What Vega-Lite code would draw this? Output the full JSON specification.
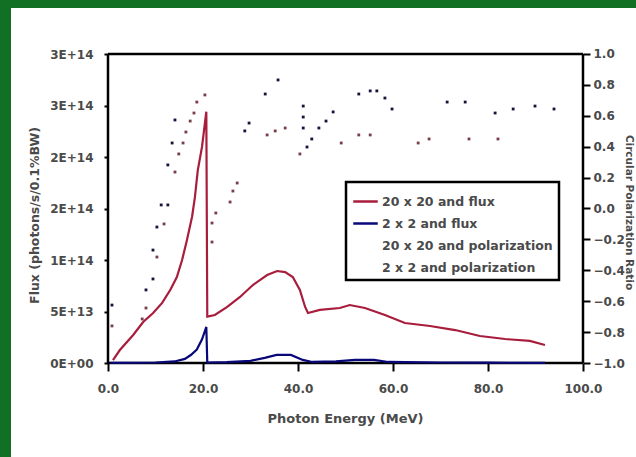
{
  "$schema": "https://vega.github.io/schema/vega-lite/v6.json",
  "width": 625,
  "height": 449,
  "autosize": {"type": "none"},
  "padding": {"left": 11, "top": 8, "right": 0, "bottom": 0},
  "background": "#127025",
  "config": {
    "view": {"fill": "white", "stroke": null},
    "font": "DejaVu Sans",
    "axis": {"labelFont": "DejaVu Sans", "labelFontWeight": "bold", "labelFontSize": 12, "labelColor": "#4a4a4a", "titleFont": "DejaVu Sans", "titleFontWeight": "bold", "titleFontSize": 12, "titleColor": "#4a4a4a", "grid": false, "domain": false, "tickColor": "black", "tickWidth": 2}
  },
  "datasets": {
    "frame": [
      {"x": 0, "x2": 100, "y": 3e14, "y2": 3e14},
      {"x": 0, "x2": 0, "y": 0, "y2": 3e14},
      {"x": 100, "x2": 100, "y": 0, "y2": 3e14},
      {"x": 0, "x2": 100, "y": 0, "y2": 0}
    ],
    "flux": [
      {"series": "20 x 20 and flux", "energy": 1.05, "flux": 2.9e12},
      {"series": "20 x 20 and flux", "energy": 2.5, "flux": 1.26e13},
      {"series": "20 x 20 and flux", "energy": 5.3, "flux": 2.72e13},
      {"series": "20 x 20 and flux", "energy": 7.4, "flux": 3.98e13},
      {"series": "20 x 20 and flux", "energy": 9.5, "flux": 4.85e13},
      {"series": "20 x 20 and flux", "energy": 11.4, "flux": 5.83e13},
      {"series": "20 x 20 and flux", "energy": 13.1, "flux": 7.09e13},
      {"series": "20 x 20 and flux", "energy": 14.5, "flux": 8.35e13},
      {"series": "20 x 20 and flux", "energy": 15.6, "flux": 1.0e14},
      {"series": "20 x 20 and flux", "energy": 16.6, "flux": 1.19e14},
      {"series": "20 x 20 and flux", "energy": 17.7, "flux": 1.42e14},
      {"series": "20 x 20 and flux", "energy": 18.3, "flux": 1.61e14},
      {"series": "20 x 20 and flux", "energy": 18.9, "flux": 1.87e14},
      {"series": "20 x 20 and flux", "energy": 19.8, "flux": 2.1e14},
      {"series": "20 x 20 and flux", "energy": 20.7, "flux": 2.44e14},
      {"series": "20 x 20 and flux", "energy": 20.9, "flux": 4.5e13},
      {"series": "20 x 20 and flux", "energy": 22.5, "flux": 4.66e13},
      {"series": "20 x 20 and flux", "energy": 25.1, "flux": 5.44e13},
      {"series": "20 x 20 and flux", "energy": 27.8, "flux": 6.41e13},
      {"series": "20 x 20 and flux", "energy": 30.5, "flux": 7.57e13},
      {"series": "20 x 20 and flux", "energy": 33.5, "flux": 8.54e13},
      {"series": "20 x 20 and flux", "energy": 35.6, "flux": 8.93e13},
      {"series": "20 x 20 and flux", "energy": 37.3, "flux": 8.83e13},
      {"series": "20 x 20 and flux", "energy": 38.9, "flux": 8.35e13},
      {"series": "20 x 20 and flux", "energy": 40.4, "flux": 7.09e13},
      {"series": "20 x 20 and flux", "energy": 41.5, "flux": 5.44e13},
      {"series": "20 x 20 and flux", "energy": 42.1, "flux": 4.85e13},
      {"series": "20 x 20 and flux", "energy": 44.6, "flux": 5.15e13},
      {"series": "20 x 20 and flux", "energy": 48.8, "flux": 5.34e13},
      {"series": "20 x 20 and flux", "energy": 50.9, "flux": 5.63e13},
      {"series": "20 x 20 and flux", "energy": 54.1, "flux": 5.34e13},
      {"series": "20 x 20 and flux", "energy": 58.3, "flux": 4.66e13},
      {"series": "20 x 20 and flux", "energy": 62.5, "flux": 3.88e13},
      {"series": "20 x 20 and flux", "energy": 67.8, "flux": 3.59e13},
      {"series": "20 x 20 and flux", "energy": 73.1, "flux": 3.2e13},
      {"series": "20 x 20 and flux", "energy": 78.3, "flux": 2.62e13},
      {"series": "20 x 20 and flux", "energy": 83.6, "flux": 2.33e13},
      {"series": "20 x 20 and flux", "energy": 88.8, "flux": 2.14e13},
      {"series": "20 x 20 and flux", "energy": 92.0, "flux": 1.75e13},
      {"series": "2 x 2 and flux", "energy": 0.5, "flux": 2e11},
      {"series": "2 x 2 and flux", "energy": 10, "flux": 5e11},
      {"series": "2 x 2 and flux", "energy": 14, "flux": 1.5e12},
      {"series": "2 x 2 and flux", "energy": 16.2, "flux": 4e12},
      {"series": "2 x 2 and flux", "energy": 17.5, "flux": 8e12},
      {"series": "2 x 2 and flux", "energy": 18.7, "flux": 1.3e13},
      {"series": "2 x 2 and flux", "energy": 19.8, "flux": 2.3e13},
      {"series": "2 x 2 and flux", "energy": 20.7, "flux": 3.5e13},
      {"series": "2 x 2 and flux", "energy": 20.9, "flux": 5e11},
      {"series": "2 x 2 and flux", "energy": 25, "flux": 8e11},
      {"series": "2 x 2 and flux", "energy": 30, "flux": 2e12},
      {"series": "2 x 2 and flux", "energy": 33, "flux": 5e12},
      {"series": "2 x 2 and flux", "energy": 35.5, "flux": 7.8e12},
      {"series": "2 x 2 and flux", "energy": 38.5, "flux": 7.8e12},
      {"series": "2 x 2 and flux", "energy": 41, "flux": 3e12},
      {"series": "2 x 2 and flux", "energy": 43, "flux": 1e12},
      {"series": "2 x 2 and flux", "energy": 48, "flux": 1.5e12},
      {"series": "2 x 2 and flux", "energy": 52, "flux": 3e12},
      {"series": "2 x 2 and flux", "energy": 56, "flux": 3e12},
      {"series": "2 x 2 and flux", "energy": 59, "flux": 1e12},
      {"series": "2 x 2 and flux", "energy": 70, "flux": 5e11},
      {"series": "2 x 2 and flux", "energy": 80, "flux": 3e11},
      {"series": "2 x 2 and flux", "energy": 92, "flux": 2e11}
    ],
    "pol": [
      {"series": "2 x 2 and polarization", "energy": 0.84, "pol": -0.625},
      {"series": "2 x 2 and polarization", "energy": 8.0, "pol": -0.527},
      {"series": "2 x 2 and polarization", "energy": 9.47, "pol": -0.456},
      {"series": "2 x 2 and polarization", "energy": 9.47, "pol": -0.269},
      {"series": "2 x 2 and polarization", "energy": 10.3, "pol": -0.12},
      {"series": "2 x 2 and polarization", "energy": 11.2, "pol": 0.023},
      {"series": "2 x 2 and polarization", "energy": 12.6, "pol": 0.023},
      {"series": "2 x 2 and polarization", "energy": 12.6, "pol": 0.282},
      {"series": "2 x 2 and polarization", "energy": 13.5, "pol": 0.424},
      {"series": "2 x 2 and polarization", "energy": 14.1, "pol": 0.573},
      {"series": "2 x 2 and polarization", "energy": 28.8, "pol": 0.502},
      {"series": "2 x 2 and polarization", "energy": 29.7, "pol": 0.553},
      {"series": "2 x 2 and polarization", "energy": 33.1, "pol": 0.741},
      {"series": "2 x 2 and polarization", "energy": 35.8, "pol": 0.832},
      {"series": "2 x 2 and polarization", "energy": 41.1, "pol": 0.663},
      {"series": "2 x 2 and polarization", "energy": 41.1, "pol": 0.592},
      {"series": "2 x 2 and polarization", "energy": 41.1, "pol": 0.521},
      {"series": "2 x 2 and polarization", "energy": 42.9, "pol": 0.45},
      {"series": "2 x 2 and polarization", "energy": 41.9, "pol": 0.398},
      {"series": "2 x 2 and polarization", "energy": 44.4, "pol": 0.521},
      {"series": "2 x 2 and polarization", "energy": 45.9, "pol": 0.566},
      {"series": "2 x 2 and polarization", "energy": 47.4, "pol": 0.625},
      {"series": "2 x 2 and polarization", "energy": 52.8, "pol": 0.741},
      {"series": "2 x 2 and polarization", "energy": 55.2, "pol": 0.761},
      {"series": "2 x 2 and polarization", "energy": 56.6, "pol": 0.761},
      {"series": "2 x 2 and polarization", "energy": 58.3, "pol": 0.715},
      {"series": "2 x 2 and polarization", "energy": 59.8, "pol": 0.644},
      {"series": "2 x 2 and polarization", "energy": 71.4, "pol": 0.689},
      {"series": "2 x 2 and polarization", "energy": 75.2, "pol": 0.689},
      {"series": "2 x 2 and polarization", "energy": 81.5, "pol": 0.618},
      {"series": "2 x 2 and polarization", "energy": 85.3, "pol": 0.644},
      {"series": "2 x 2 and polarization", "energy": 89.9, "pol": 0.663},
      {"series": "2 x 2 and polarization", "energy": 93.9, "pol": 0.644},
      {"series": "20 x 20 and polarization", "energy": 0.84, "pol": -0.76},
      {"series": "20 x 20 and polarization", "energy": 7.2, "pol": -0.715},
      {"series": "20 x 20 and polarization", "energy": 8.0, "pol": -0.644},
      {"series": "20 x 20 and polarization", "energy": 10.3, "pol": -0.314},
      {"series": "20 x 20 and polarization", "energy": 11.8, "pol": -0.1},
      {"series": "20 x 20 and polarization", "energy": 14.1, "pol": 0.236},
      {"series": "20 x 20 and polarization", "energy": 14.9, "pol": 0.353},
      {"series": "20 x 20 and polarization", "energy": 15.8, "pol": 0.424},
      {"series": "20 x 20 and polarization", "energy": 16.4, "pol": 0.495},
      {"series": "20 x 20 and polarization", "energy": 17.3, "pol": 0.566},
      {"series": "20 x 20 and polarization", "energy": 18.1, "pol": 0.618},
      {"series": "20 x 20 and polarization", "energy": 18.7, "pol": 0.689},
      {"series": "20 x 20 and polarization", "energy": 20.4, "pol": 0.735},
      {"series": "20 x 20 and polarization", "energy": 21.9, "pol": -0.217},
      {"series": "20 x 20 and polarization", "energy": 21.9, "pol": -0.094},
      {"series": "20 x 20 and polarization", "energy": 22.7, "pol": -0.029},
      {"series": "20 x 20 and polarization", "energy": 25.7, "pol": 0.042},
      {"series": "20 x 20 and polarization", "energy": 26.3, "pol": 0.113},
      {"series": "20 x 20 and polarization", "energy": 27.2, "pol": 0.165},
      {"series": "20 x 20 and polarization", "energy": 33.5, "pol": 0.476},
      {"series": "20 x 20 and polarization", "energy": 35.2, "pol": 0.502},
      {"series": "20 x 20 and polarization", "energy": 37.3, "pol": 0.521},
      {"series": "20 x 20 and polarization", "energy": 40.4, "pol": 0.353},
      {"series": "20 x 20 and polarization", "energy": 49.1, "pol": 0.424},
      {"series": "20 x 20 and polarization", "energy": 52.8, "pol": 0.476},
      {"series": "20 x 20 and polarization", "energy": 55.2, "pol": 0.476},
      {"series": "20 x 20 and polarization", "energy": 65.3, "pol": 0.424},
      {"series": "20 x 20 and polarization", "energy": 67.6, "pol": 0.45},
      {"series": "20 x 20 and polarization", "energy": 76.0, "pol": 0.45},
      {"series": "20 x 20 and polarization", "energy": 82.1, "pol": 0.45}
    ]
  },
  "layer": [
    {
      "layer": [
        {
          "data": {"name": "frame"},
          "mark": {"type": "rule", "color": "black", "strokeWidth": 2.5},
          "encoding": {
            "x": {"field": "x", "type": "quantitative", "scale": {"domain": [-20.42, 111.16], "nice": false, "zero": false},
              "axis": {"values": [0, 20, 40, 60, 80, 100], "format": ".1f", "offset": -94, "tickSize": 8, "labelPadding": 12, "title": "Photon Energy (MeV)", "titleFontSize": 13, "titlePadding": 18, "titleX": 334}},
            "x2": {"field": "x2"},
            "y": {"field": "y", "type": "quantitative", "scale": {"domain": [-9.126e13, 3.4466e14], "nice": false, "zero": false},
              "axis": {"values": [0, 5e13, 1e14, 1.5e14, 2e14, 2.5e14, 3e14], "labelExpr": "datum.value == 0 ? '0E+00' : upper(format(datum.value, '.0e'))", "offset": -97, "tickSize": 4, "labelPadding": 11, "title": "Flux (photons/s/0.1%BW)", "titleFontSize": 12.5, "titlePadding": 8, "titleY": 207}},
            "y2": {"field": "y2"}
          }
        },
        {
          "data": {"name": "flux"},
          "mark": {"type": "line", "strokeWidth": 2.2},
          "encoding": {
            "x": {"field": "energy", "type": "quantitative"},
            "y": {"field": "flux", "type": "quantitative"},
            "color": {"field": "series", "type": "nominal",
              "scale": {"domain": ["20 x 20 and flux", "2 x 2 and flux", "20 x 20 and polarization", "2 x 2 and polarization"], "range": ["#a81d3c", "#08087a", "#7a3e48", "#14143c"]},
              "legend": {"title": null, "orient": "none", "legendX": 335, "legendY": 174, "symbolType": "stroke", "symbolSize": 600, "symbolStrokeWidth": 2.5, "labelFont": "DejaVu Sans", "labelFontWeight": "bold", "labelFontSize": 12.5, "labelColor": "#4a4a4a", "labelLimit": 400, "strokeColor": "black", "fillColor": "white", "padding": 6, "rowPadding": 2, "labelOffset": 3,
                "encode": {"legend": {"update": {"strokeWidth": {"value": 2.5}}}, "symbols": {"update": {"opacity": {"signal": "indexof(datum.value, 'polarization') >= 0 ? 0 : 1"}}}}}
            },
            "order": {"field": "energy", "type": "quantitative"}
          }
        }
      ]
    },
    {
      "data": {"name": "pol"},
      "mark": {"type": "point", "shape": "square", "filled": true, "size": 8, "opacity": 1},
      "encoding": {
        "x": {"field": "energy", "type": "quantitative"},
        "y": {"field": "pol", "type": "quantitative", "scale": {"domain": [-1.6084, 1.2977], "nice": false, "zero": false},
          "axis": {"orient": "right", "values": [-1, -0.8, -0.6, -0.4, -0.2, 0, 0.2, 0.4, 0.6, 0.8, 1], "format": ".1f", "offset": -53, "tickSize": 7, "labelPadding": 3, "title": "Circular Polarization Ratio", "titleFontSize": 10.5, "titleX": 40, "titleY": 204}},
        "color": {"field": "series", "type": "nominal"}
      }
    }
  ],
  "resolve": {"scale": {"y": "independent"}}
}
